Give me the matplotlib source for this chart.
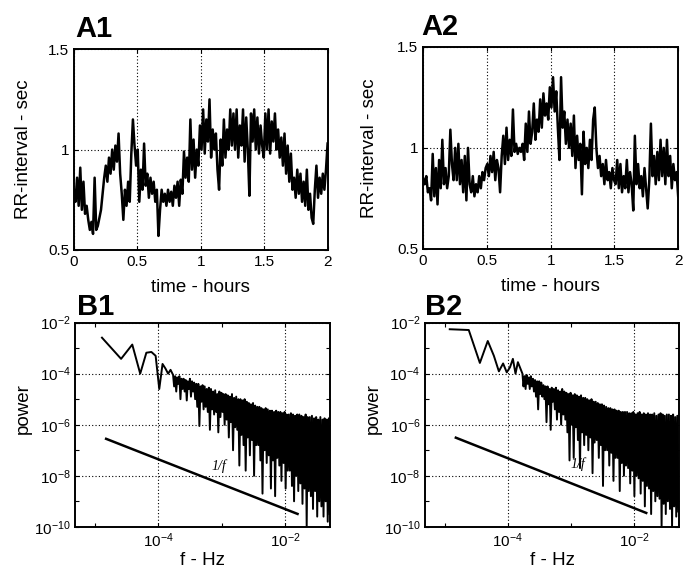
import numpy as np
import matplotlib
matplotlib.use('Agg')
import matplotlib.pyplot as plt
from matplotlib.ticker import FixedLocator, FixedFormatter, NullFormatter

plt.rcParams['font.family'] = ['Liberation Sans', 'DejaVu Sans']
plt.rcParams['mathtext.fontset'] = 'custom'
plt.rcParams['mathtext.rm'] = 'Liberation Sans'
plt.rcParams['mathtext.it'] = 'Liberation Sans:italic'

# RR-interval (sec) over 2 hours
rr_a1 = [0.80, 0.74, 0.86, 0.72, 0.91, 0.70, 0.84, 0.68, 0.72, 0.65,
         0.60, 0.64, 0.58, 0.86, 0.60, 0.62, 0.66, 0.70, 0.78, 0.86,
         0.92, 0.84, 0.96, 0.88, 1.00, 0.90, 1.02, 0.94, 1.08, 0.88,
         0.78, 0.65, 0.80, 0.72, 0.84, 0.74, 0.98, 1.15, 1.02, 0.92,
         1.00, 0.74, 0.90, 0.80, 1.03, 0.82, 0.88, 0.76, 0.86, 0.78,
         0.84, 0.74, 0.80, 0.57, 0.70, 0.80, 0.74, 0.78, 0.72, 0.80,
         0.74, 0.79, 0.72, 0.82, 0.76, 0.84, 0.72, 0.85, 0.78, 0.99,
         0.86, 0.96, 0.84, 1.15, 0.90, 1.05, 0.86, 1.00, 0.92, 1.12,
         1.00, 1.20, 0.98, 1.15, 1.04, 1.25, 0.96, 1.10, 1.00, 1.08,
         0.90, 0.80, 1.05, 0.92, 1.15, 0.96, 1.10, 1.00, 1.20, 1.02,
         1.18, 1.00, 1.20, 0.96, 1.12, 1.02, 1.20, 0.94, 1.16, 1.00,
         0.77, 1.18, 1.04, 1.20, 1.00, 1.16, 0.98, 1.12, 1.02, 0.96,
         1.18, 1.00, 1.20, 0.98, 1.14, 1.04, 1.18, 1.00, 1.10, 0.96,
         1.06, 0.92, 1.08, 0.88, 1.02, 0.84, 0.98, 0.80, 0.86, 0.76,
         0.90, 0.78, 0.88, 0.74, 0.84, 0.72, 0.90, 0.70, 0.78, 0.66,
         0.63, 0.80, 0.92, 0.76, 0.86, 0.78, 0.88, 0.80, 0.90, 1.03]

rr_a2 = [0.85, 0.82, 0.86, 0.78, 0.80, 0.74, 0.97, 0.76, 0.90, 0.72,
         0.94, 0.80, 1.04, 0.82, 0.90, 0.80, 0.86, 1.09, 0.92, 0.84,
         1.00, 0.84, 1.02, 0.82, 0.94, 0.78, 0.96, 0.74, 1.00, 0.82,
         0.78, 0.86, 0.76, 0.82, 0.78, 0.86, 0.80, 0.88, 0.84, 0.90,
         0.92, 0.86, 0.96, 0.88, 0.98, 0.84, 0.94, 0.90, 0.78, 0.96,
         1.06, 0.92, 1.10, 0.94, 1.04, 0.96, 1.19, 0.98, 1.02, 0.97,
         1.00, 0.98, 1.02, 0.94, 1.12, 0.98, 1.18, 1.02, 1.08, 1.22,
         1.04, 1.14, 1.08, 1.24, 1.10, 1.27, 1.16, 1.22, 1.14, 1.30,
         1.20, 1.35, 1.18, 1.28, 1.10, 0.94, 1.35, 1.10, 1.18, 1.02,
         1.14, 1.00, 1.12, 0.96, 1.16, 0.90, 1.06, 0.94, 1.02, 0.77,
         1.08, 0.92, 1.00, 0.90, 1.04, 0.94, 1.14, 1.20, 1.00, 0.90,
         0.96, 0.86, 0.92, 0.82, 0.94, 0.84, 0.88, 0.80, 0.90, 0.84,
         0.82, 0.94, 0.80, 0.92, 0.78, 0.86, 0.80, 0.94, 0.78, 0.88,
         0.82, 0.69, 1.06, 0.82, 0.92, 0.80, 0.86, 0.76, 0.90, 0.80,
         0.70, 0.84, 1.12, 0.86, 0.96, 0.82, 0.98, 0.84, 1.04, 0.86,
         1.00, 0.82, 1.04, 0.86, 0.96, 0.80, 0.92, 0.84, 0.88, 0.76]

hours = np.linspace(0, 2, len(rr_a1))

# spectra: lowest frequency bins, then a dense log-spaced stretch (log10 power)
f_low_b1 = [1.29e-5, 2.58e-5, 3.87e-5, 5.16e-5, 6.45e-5, 7.74e-5,
            9.03e-5, 1.03e-4, 1.16e-4, 1.29e-4, 1.42e-4, 1.55e-4]
logp_low_b1 = [-2.59, -3.42, -2.86, -4.0, -3.18, -3.15,
               -3.3, -4.6, -3.62, -3.8, -4.0, -3.85]

f_low_b2 = [1.2e-5, 2.4e-5, 3.6e-5, 4.8e-5, 6.0e-5, 7.2e-5,
            8.4e-5, 9.6e-5, 1.08e-4, 1.2e-4, 1.32e-4, 1.44e-4]
logp_low_b2 = [-2.26, -2.29, -3.58, -2.72, -3.3, -3.91,
               -3.6, -3.95, -3.75, -3.42, -4.0, -3.55]

logp_hi_b1 = [-4.05, -4.5, -4.1, -4.7, -4.15, -4.4, -4.1, -5.0, -4.2, -4.6,
              -4.2, -4.7, -4.25, -5.05, -4.3, -4.6, -4.2, -4.9, -4.3, -4.7,
              -4.35, -5.0, -4.4, -5.3, -4.4, -6.05, -4.5, -5.1, -4.45, -5.4,
              -4.5, -5.3, -4.6, -5.5, -4.55, -6.2, -4.6, -5.4, -4.7, -5.6,
              -4.65, -5.5, -4.8, -6.3, -4.7, -5.7, -4.75, -5.5, -4.8, -6.0,
              -4.8, -5.8, -4.85, -6.5, -4.9, -5.9, -4.8, -7.0, -4.95, -6.1,
              -4.9, -6.2, -5.0, -7.6, -5.0, -6.4, -5.05, -6.8, -5.0, -7.8,
              -5.1, -6.5, -5.15, -7.2, -5.2, -6.6, -5.15, -8.0, -5.25, -6.8,
              -5.3, -6.8, -5.3, -7.4, -5.35, -8.7, -5.4, -7.0, -5.35, -7.5,
              -5.4, -7.2, -5.45, -8.5, -5.45, -7.4, -5.5, -8.8, -5.45, -7.3,
              -5.5, -7.6, -5.5, -8.2, -5.55, -7.5, -5.5, -8.5, -5.6, -7.8,
              -5.6, -7.8, -5.55, -8.4, -5.6, -9.0, -5.65, -8.0, -5.6, -8.6,
              -5.6, -8.3, -5.65, -9.1, -5.7, -8.5, -5.6, -10.0, -5.7, -8.6,
              -5.7, -8.8, -5.65, -9.3, -5.75, -8.6, -5.7, -9.6, -5.8, -9.0,
              -5.7, -9.2, -5.8, -9.6, -5.75, -9.0, -5.8, -9.8, -5.75, -9.5]

logp_hi_b2 = [-4.0, -4.5, -4.1, -4.6, -4.05, -4.4, -4.15, -4.6, -4.1, -4.5,
              -4.2, -4.7, -4.25, -4.9, -4.3, -5.4, -4.3, -4.8, -4.35, -4.9,
              -4.45, -5.0, -4.5, -5.9, -4.5, -5.2, -4.6, -6.2, -4.55, -5.1,
              -4.6, -5.4, -4.55, -5.8, -4.65, -5.5, -4.7, -6.0, -4.6, -5.6,
              -4.7, -5.8, -4.75, -6.3, -4.8, -7.4, -4.75, -6.0, -4.85, -7.3,
              -4.8, -6.1, -4.85, -6.6, -4.9, -7.7, -4.85, -6.3, -4.95, -6.8,
              -4.95, -6.4, -5.0, -7.0, -5.05, -6.5, -5.0, -7.9, -5.1, -6.7,
              -5.1, -6.6, -5.15, -7.3, -5.2, -6.8, -5.2, -8.4, -5.25, -7.0,
              -5.3, -7.0, -5.35, -7.6, -5.35, -7.1, -5.4, -8.2, -5.4, -7.3,
              -5.45, -7.3, -5.45, -8.6, -5.5, -7.5, -5.5, -8.0, -5.5, -7.6,
              -5.5, -7.7, -5.55, -8.3, -5.55, -7.8, -5.5, -8.8, -5.6, -8.0,
              -5.55, -8.1, -5.5, -8.7, -5.6, -8.2, -5.55, -9.2, -5.6, -8.4,
              -5.55, -8.5, -5.6, -9.5, -5.6, -8.6, -5.55, -9.0, -5.65, -8.8,
              -5.6, -8.9, -5.55, -10.0, -5.6, -9.1, -5.65, -9.5, -5.6, -9.0,
              -5.6, -9.3, -5.65, -10.0, -5.6, -9.2, -5.7, -9.6, -5.65, -9.4]

f_hi = np.geomspace(1.7e-4, 5e-2, len(logp_hi_b1))

# 1/f reference lines
f_ref = [1.5e-5, 1.55e-2]
p_ref_b1 = [2.8e-7, 3.2e-10]
p_ref_b2 = [3.1e-7, 3.5e-10]

fig = plt.figure(figsize=(6.97, 5.72), dpi=100)
ax_a1 = fig.add_axes([0.106, 0.563, 0.364, 0.351])
ax_a2 = fig.add_axes([0.607, 0.565, 0.366, 0.353])
ax_b1 = fig.add_axes([0.108, 0.079, 0.366, 0.357])
ax_b2 = fig.add_axes([0.610, 0.079, 0.364, 0.357])


def frame(ax):
    for s in ax.spines.values():
        s.set_linewidth(1.4)
    ax.tick_params(direction='in', length=3, width=0.8, labelsize=11,
                   top=True, right=True, which='both')
    ax.grid(True, which='major', linestyle=(0, (1, 2)), color='black',
            linewidth=0.8)


for ax, rr, ylx in [(ax_a1, rr_a1, -0.165), (ax_a2, rr_a2, -0.176)]:
    ax.plot(hours, rr, color='black', linewidth=1.8)
    ax.set_xlim(0, 2)
    ax.set_ylim(0.5, 1.5)
    ax.set_xticks([0, 0.5, 1, 1.5, 2])
    ax.set_xticklabels(['0', '0.5', '1', '1.5', '2'])
    ax.set_yticks([0.5, 1, 1.5])
    ax.set_yticklabels(['0.5', '1', '1.5'])
    frame(ax)
    ax.set_xlabel('time - hours', fontsize=13.5)
    ax.set_ylabel('RR-interval - sec', fontsize=13.5)
    ax.xaxis.set_label_coords(0.5, -0.145)
    ax.yaxis.set_label_coords(ylx, 0.5)

ylabels = [r'$10^{-10}$', r'$10^{-8}$', r'$10^{-6}$', r'$10^{-4}$', r'$10^{-2}$']
for ax, fl, pl, ph, pr, tx in [
        (ax_b1, f_low_b1, logp_low_b1, logp_hi_b1, p_ref_b1, (9.0e-4, 2.4e-8)),
        (ax_b2, f_low_b2, logp_low_b2, logp_hi_b2, p_ref_b2, (1.3e-3, 2.8e-8))]:
    freqs = np.concatenate([fl, f_hi])
    power = 10.0 ** np.concatenate([pl, ph])
    ax.plot(freqs, power, color='black', linewidth=1.4)
    ax.plot(f_ref, pr, color='black', linewidth=1.8)
    ax.text(tx[0], tx[1], '1/f', fontsize=10, family='Liberation Serif',
            style='italic', ha='center', va='center')
    ax.set_xscale('log')
    ax.set_yscale('log')
    ax.set_xlim(4.9e-6, 5.1e-2)
    ax.set_ylim(1e-10, 1e-2)
    ax.xaxis.set_major_locator(FixedLocator([1e-4, 1e-2]))
    ax.xaxis.set_major_formatter(FixedFormatter([r'$10^{-4}$', r'$10^{-2}$']))
    ax.xaxis.set_minor_locator(FixedLocator([1e-5, 1e-3]))
    ax.xaxis.set_minor_formatter(NullFormatter())
    ax.yaxis.set_major_locator(FixedLocator([1e-10, 1e-8, 1e-6, 1e-4, 1e-2]))
    ax.yaxis.set_major_formatter(FixedFormatter(ylabels))
    ax.yaxis.set_minor_locator(FixedLocator([1e-9, 1e-7, 1e-5, 1e-3]))
    ax.yaxis.set_minor_formatter(NullFormatter())
    frame(ax)
    ax.set_xlabel('f - Hz', fontsize=13.5)
    ax.set_ylabel('power', fontsize=13.5)
    ax.xaxis.set_label_coords(0.5, -0.125)
    ax.yaxis.set_label_coords(-0.169, 0.58)

fig.text(75 / 697, 1 - 37 / 572, 'A1', fontsize=21, fontweight='bold', va='baseline')
fig.text(421 / 697, 1 - 35 / 572, 'A2', fontsize=21, fontweight='bold', va='baseline')
fig.text(77 / 697, 1 - 315 / 572, 'B1', fontsize=21, fontweight='bold', va='baseline')
fig.text(425 / 697, 1 - 315 / 572, 'B2', fontsize=21, fontweight='bold', va='baseline')

fig.savefig('out.png', dpi=100)
